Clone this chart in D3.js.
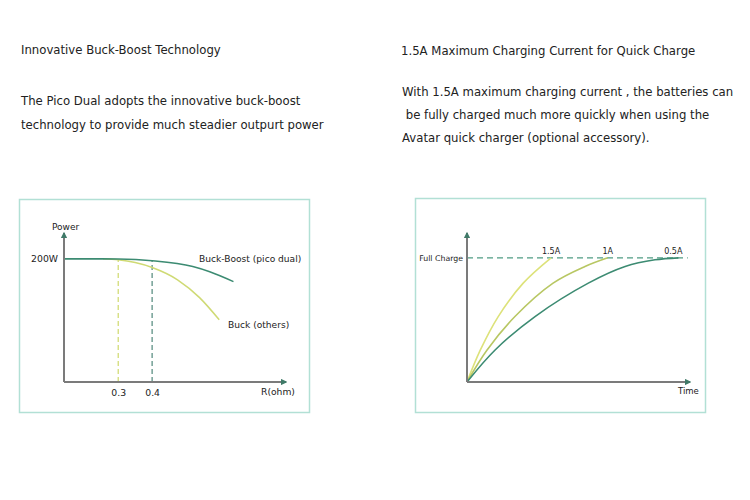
<!DOCTYPE html>
<html>
<head>
<meta charset="utf-8">
<script src="https://cdn.jsdelivr.net/npm/d3@7/dist/d3.min.js"></script>
<style>
  body { margin: 0; background: #fff; }
  svg text { font-family: "DejaVu Sans", Verdana, sans-serif; fill: #222; }
</style>
</head>
<body>
<svg id="chart" width="750" height="500"></svg>
<script>
// left chart: power vs load resistance
const rTicks = [0.3, 0.4];
const powerTicks = [200];
const boostR = [0.14, 0.25, 0.3, 0.4, 0.52, 0.57, 0.64];
const boostP = [200, 200, 199.8, 197, 187.5, 179, 163];
const buckR = [0.255, 0.3, 0.35, 0.4, 0.475, 0.54, 0.598];
const buckP = [200, 198.5, 194, 186, 166, 137, 101];

// right chart: charge vs time for three currents
const currents = ["1.5A", "1A", "0.5A"];
const time15 = [0, 6, 14, 25.2, 37.7];
const charge15 = [0, 25.8, 52.7, 79.6, 100];
const time10 = [0, 9, 21.5, 38.6, 52.9, 63.1];
const charge10 = [0, 25.8, 52.7, 79.6, 93, 100];
const time05 = [0, 12.6, 30.5, 54.4, 70.9, 84.3, 94.8];
const charge05 = [0, 25.8, 52.7, 79.6, 93, 98.4, 100];

const svg = d3.select("#chart");
const gray = "#7b7b7b";
const teal = "#3c8b72";
const font = '"DejaVu Sans", Verdana, sans-serif';

// arrowhead markers
svg.append("defs").append("marker")
    .attr("id", "arrow")
    .attr("viewBox", "0 0 10 10")
    .attr("refX", 8).attr("refY", 5)
    .attr("markerWidth", 3.2).attr("markerHeight", 3.2)
    .attr("orient", "auto")
    .append("path")
    .attr("d", "M0,0L10,5L0,10z")
    .attr("fill", "#3f7a68");

// headline text
function textLines(x, ys, lines, size) {
    lines.forEach((t, i) => {
        svg.append("text")
            .attr("x", x).attr("y", ys[i])
            .style("font-size", size + "px")
            .attr("xml:space", "preserve")
            .text(t);
    });
}
textLines(21, [54], ["Innovative Buck-Boost Technology"], 11.7);
textLines(21, [105, 129], [
    "The Pico Dual adopts the innovative buck-boost",
    "technology to provide much steadier outpurt power"
], 11.7);
textLines(401, [55], ["1.5A Maximum Charging Current for Quick Charge"], 11.7);
textLines(402, [96, 119, 142], [
    "With 1.5A maximum charging current , the batteries can",
    " be fully charged much more quickly when using the",
    "Avatar quick charger (optional accessory)."
], 11.7);

// frames
svg.append("rect").attr("x", 19.5).attr("y", 199.5).attr("width", 290).attr("height", 213)
    .attr("fill", "none").attr("stroke", "#b2e0d5").attr("stroke-width", 1.5);
svg.append("rect").attr("x", 415.5).attr("y", 198.5).attr("width", 290).attr("height", 214)
    .attr("fill", "none").attr("stroke", "#b2e0d5").attr("stroke-width", 1.5);

// ---------- left chart ----------
const x1 = d3.scaleLinear().domain([0.14, 0.795]).range([64, 286]);
const y1 = d3.scaleLinear().domain([0, 242]).range([382, 233]);

const left = svg.append("g");

// dashed guides
left.append("line")
    .attr("x1", x1(0.3)).attr("x2", x1(0.3))
    .attr("y1", y1(0)).attr("y2", y1(199.5))
    .attr("stroke", "#d3dc78").attr("stroke-width", 1.3)
    .attr("stroke-dasharray", "5,3");
left.append("line")
    .attr("x1", x1(0.4)).attr("x2", x1(0.4))
    .attr("y1", y1(0)).attr("y2", y1(197))
    .attr("stroke", "#5e9186").attr("stroke-width", 1.3)
    .attr("stroke-dasharray", "5,3");

const line1 = d3.line().x(d => x1(d[0])).y(d => y1(d[1])).curve(d3.curveMonotoneX);
left.append("path")
    .attr("d", line1(d3.zip(buckR, buckP)))
    .attr("fill", "none").attr("stroke", "#cfda74").attr("stroke-width", 1.5);
left.append("path")
    .attr("d", line1(d3.zip(boostR, boostP)))
    .attr("fill", "none").attr("stroke", teal).attr("stroke-width", 1.6);

// axes
left.append("line")
    .attr("x1", x1.range()[0]).attr("x2", x1.range()[0])
    .attr("y1", y1.range()[0]).attr("y2", y1.range()[1])
    .attr("stroke", gray).attr("stroke-width", 2)
    .attr("marker-end", "url(#arrow)");
left.append("line")
    .attr("x1", x1.range()[0]).attr("x2", x1.range()[1])
    .attr("y1", y1.range()[0]).attr("y2", y1.range()[0])
    .attr("stroke", gray).attr("stroke-width", 2)
    .attr("marker-end", "url(#arrow)");

const xAxis1 = left.append("g")
    .attr("transform", `translate(0,${y1(0)})`)
    .call(d3.axisBottom(x1).tickValues(rTicks).tickSize(0).tickPadding(7).tickFormat(d3.format(".1f")));
const yAxis1 = left.append("g")
    .attr("transform", `translate(${x1.range()[0]},0)`)
    .call(d3.axisLeft(y1).tickValues(powerTicks).tickSize(0).tickPadding(6).tickFormat(d => d + "W"));
[xAxis1, yAxis1].forEach(a => {
    a.select(".domain").remove();
    a.selectAll("text").attr("fill", "#222").style("font-size", "9.3px").style("font-family", font);
});

left.append("text").attr("x", 52).attr("y", 230).style("font-size", "9px").text("Power");
left.append("text").attr("x", 261).attr("y", 395).style("font-size", "9.2px").text("R(ohm)");
left.append("text").attr("x", 199).attr("y", 262).style("font-size", "9.1px").text("Buck-Boost (pico dual)");
left.append("text").attr("x", 228).attr("y", 328).style("font-size", "9.1px").text("Buck (others)");

// ---------- right chart ----------
const x2 = d3.scaleLinear().domain([0, 100]).range([467, 690]);
const y2 = d3.scaleLinear().domain([0, 120]).range([382, 233]);

const right = svg.append("g");

right.append("line")
    .attr("x1", x2(0)).attr("x2", x2(99))
    .attr("y1", y2(100)).attr("y2", y2(100))
    .attr("stroke", "#4f9c83").attr("stroke-width", 1.3)
    .attr("stroke-dasharray", "6,4");

const line2 = d3.line().x(d => x2(d[0])).y(d => y2(d[1])).curve(d3.curveCatmullRom.alpha(0.5));
const series = [
    { name: currents[0], t: time15, c: charge15, color: "#dde27a" },
    { name: currents[1], t: time10, c: charge10, color: "#b8c763" },
    { name: currents[2], t: time05, c: charge05, color: teal }
];
right.selectAll("path.curve")
    .data(series)
    .enter()
    .append("path")
    .attr("class", "curve")
    .attr("d", d => line2(d3.zip(d.t, d.c)))
    .attr("fill", "none")
    .attr("stroke", d => d.color)
    .attr("stroke-width", 1.6);

right.selectAll("text.lbl")
    .data(series)
    .enter()
    .append("text")
    .attr("class", "lbl")
    .attr("x", (d, i) => i === 2 ? x2(92.5) : x2(d3.max(d.t)))
    .attr("y", 254)
    .attr("text-anchor", "middle")
    .style("font-size", "8px")
    .text(d => d.name);

right.append("line")
    .attr("x1", x2.range()[0]).attr("x2", x2.range()[0])
    .attr("y1", y2.range()[0]).attr("y2", y2.range()[1])
    .attr("stroke", gray).attr("stroke-width", 2)
    .attr("marker-end", "url(#arrow)");
right.append("line")
    .attr("x1", x2.range()[0]).attr("x2", x2.range()[1])
    .attr("y1", y2.range()[0]).attr("y2", y2.range()[0])
    .attr("stroke", gray).attr("stroke-width", 2)
    .attr("marker-end", "url(#arrow)");

right.append("text").attr("x", x2(0) - 4).attr("y", y2(100) + 3)
    .attr("text-anchor", "end").style("font-size", "7.8px").text("Full Charge");
right.append("text").attr("x", 678).attr("y", 394).style("font-size", "8.5px").text("Time");
</script>
</body>
</html>
